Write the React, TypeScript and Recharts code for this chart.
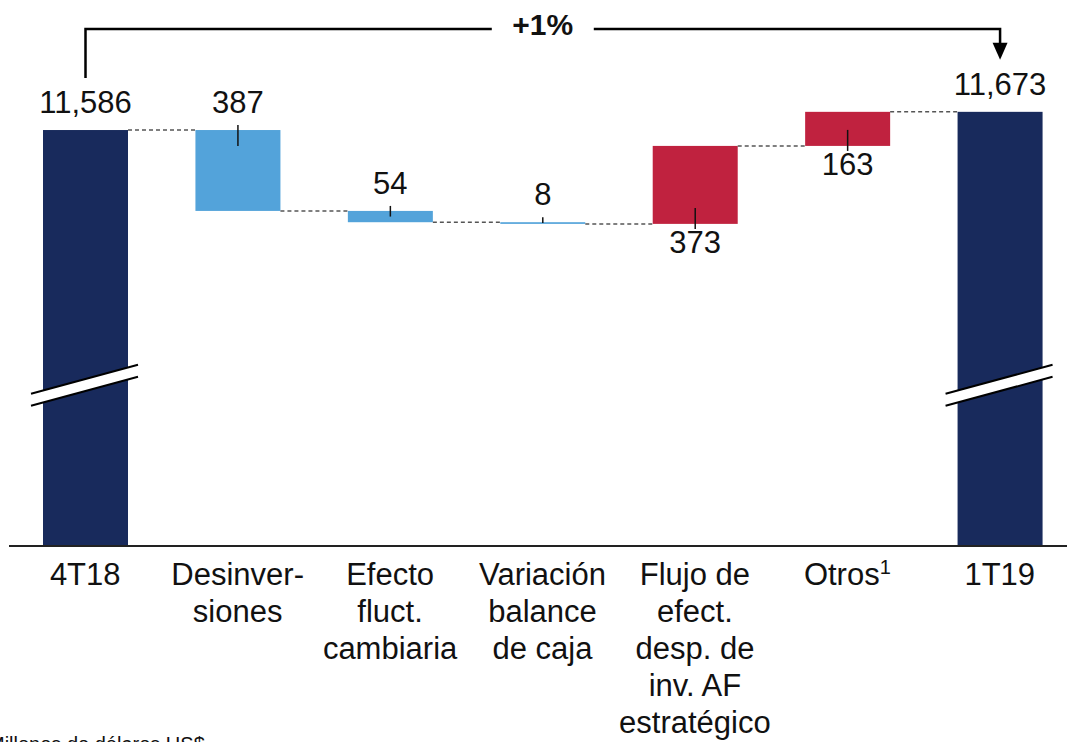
import React from 'react';
import { BarChart, Bar, XAxis, YAxis, LabelList } from 'recharts';

// ---------- data ----------
const categoryLines: string[][] = [
  ['4T18'],
  ['Desinver-', 'siones'],
  ['Efecto', 'fluct.', 'cambiaria'],
  ['Variación', 'balance', 'de caja'],
  ['Flujo de', 'efect.', 'desp. de', 'inv. AF', 'estratégico'],
  ['Otros¹'],
  ['1T19'],
];
const categories = ['4T18', 'Desinversiones', 'Efecto fluct. cambiaria', 'Variación balance de caja', 'Flujo de efect. desp. de inv. AF estratégico', 'Otros', '1T19'];
const startValue = 11586;
const changes = [-387, -54, -8, 373, 163];
const endValue = 11673;
const AXIS_MIN = 9596; // broken axis floor
const AXIS_MAX = 11921;
const footnote = 'Millones de dólares US$';

// ---------- styles ----------
const NAVY = '#182a5c';
const BLUE = '#53a3da';
const RED = '#c0223f';
const FONT = '"Liberation Sans", Arial, sans-serif';
const CHART_W = 1080;
const CHART_H = 742;
const MARGIN = { top: 60, right: 4, bottom: 0, left: 9 };
const BAR_SIZE = 85;
const BAND = (CHART_W - MARGIN.left - MARGIN.right) / categories.length;
const GAP = BAND - BAR_SIZE;
const BRACKET_Y = 29;

type Row = { name: string; range: [number, number]; kind: 'total' | 'down' | 'up'; value: number };

const rows: Row[] = [];
{
  let level = startValue;
  rows.push({ name: categories[0], range: [AXIS_MIN, startValue], kind: 'total', value: startValue });
  changes.forEach((c, i) => {
    const next = level + c;
    rows.push({
      name: categories[i + 1],
      range: [Math.min(level, next), Math.max(level, next)],
      kind: c < 0 ? 'down' : 'up',
      value: Math.abs(c),
    });
    level = next;
  });
  rows.push({ name: categories[categories.length - 1], range: [AXIS_MIN, endValue], kind: 'total', value: endValue });
}
const pct = Math.round((endValue / startValue - 1) * 100);
const pctLabel = `${pct >= 0 ? '+' : ''}${pct}%`;

const fmt = (v: number) => v.toLocaleString('en-US');

const BarShape = (props: any) => {
  const { x, y, width, height, index } = props;
  const row = rows[index];
  const top = Math.min(y, y + height);
  const h = Math.abs(height);
  const bottom = top + h;
  const fill = row.kind === 'total' ? NAVY : row.kind === 'down' ? BLUE : RED;
  const els: React.ReactNode[] = [];
  els.push(<rect key="r" x={x} y={top} width={width} height={Math.max(h, 1.5)} fill={fill} />);
  if (index < rows.length - 1) {
    const ly = row.kind === 'down' ? bottom : top;
    els.push(
      <line key="c" x1={x + width} x2={x + width + GAP} y1={ly} y2={ly} stroke="#555" strokeWidth={1.5} strokeDasharray="4 3" />
    );
  }
  if (row.kind === 'total') {
    const cx = x + width / 2;
    const cy = bottom - 161;
    const s = 29 / 107;
    const half = 6;
    const xl = x - 12;
    const xr = x + width + 10;
    const yAt = (px: number, off: number) => cy + off - s * (px - cx);
    els.push(
      <polygon
        key="bp"
        points={`${xl},${yAt(xl, -half)} ${xr},${yAt(xr, -half)} ${xr},${yAt(xr, half)} ${xl},${yAt(xl, half)}`}
        fill="#fff"
      />
    );
    els.push(<line key="b1" x1={xl} y1={yAt(xl, -half)} x2={xr} y2={yAt(xr, -half)} stroke="#000" strokeWidth={2} />);
    els.push(<line key="b2" x1={xl} y1={yAt(xl, half)} x2={xr} y2={yAt(xr, half)} stroke="#000" strokeWidth={2} />);
  }
  return <g>{els}</g>;
};

const ValueLabel = (props: any) => {
  const { x, y, width, height, index } = props;
  const row = rows[index];
  const top = Math.min(y, y + height);
  const h = Math.abs(height);
  const bottom = top + h;
  const cx = x + width / 2;
  const textProps = { fontFamily: FONT, fontSize: 31, fill: '#111', textAnchor: 'middle' as const };
  if (row.kind === 'total') {
    const base = top - 17;
    const labelTop = base - 23;
    const els: React.ReactNode[] = [
      <text key="t" x={cx} y={base} {...textProps}>{fmt(row.value)}</text>,
    ];
    const tot = rows.length - 1;
    if (index === 0) {
      const mid = cx + (tot / 2) * BAND;
      els.push(<polyline key="bl" points={`${cx},${labelTop - 12} ${cx},${BRACKET_Y} ${mid - 51},${BRACKET_Y}`} fill="none" stroke="#000" strokeWidth={2.5} />);
      els.push(
        <text key="p" x={mid} y={BRACKET_Y + 6} fontFamily={FONT} fontSize={30} fontWeight="bold" textAnchor="middle" fill="#111">
          {pctLabel}
        </text>
      );
    } else {
      const mid = cx - (tot / 2) * BAND;
      const tip = labelTop - 12;
      els.push(<polyline key="br" points={`${mid + 51},${BRACKET_Y} ${cx},${BRACKET_Y} ${cx},${tip - 16}`} fill="none" stroke="#000" strokeWidth={2.5} />);
      els.push(<polygon key="ar" points={`${cx - 7.5},${tip - 17} ${cx + 7.5},${tip - 17} ${cx},${tip}`} fill="#000" />);
    }
    return <g>{els}</g>;
  }
  const inner = Math.min(16, h / 2);
  if (row.kind === 'down') {
    const t1 = top - 5;
    const t2 = top + inner;
    return (
      <g>
        <line x1={cx} x2={cx} y1={t1} y2={t2} stroke="#111" strokeWidth={1.5} />
        <text x={cx} y={t1 - 12} {...textProps}>{fmt(row.value)}</text>
      </g>
    );
  }
  const b1 = bottom + 5;
  const b2 = bottom - inner;
  return (
    <g>
      <line x1={cx} x2={cx} y1={b2} y2={b1} stroke="#111" strokeWidth={1.5} />
      <text x={cx} y={b1 + 24} {...textProps}>{fmt(row.value)}</text>
    </g>
  );
};

const CategoryTick = (props: any) => {
  const { x, y, payload } = props;
  const idx = categories.indexOf(payload.value);
  const lines = categoryLines[idx] || [String(payload.value)];
  return (
    <g>
      {lines.map((ln, i) => {
        const parts = ln.split('¹');
        return (
          <text key={i} x={x} y={y + 31 + i * 37} textAnchor="middle" fontFamily={FONT} fontSize={31} fill="#111">
            {parts[0]}
            {parts.length > 1 ? (
              <tspan fontSize={20} dy={-11}>1</tspan>
            ) : null}
          </text>
        );
      })}
    </g>
  );
};

export default function App() {
  return (
    <div style={{ position: 'absolute', left: 0, top: 0, width: 1067, height: 742, overflow: 'hidden', background: '#fff' }}>
      <BarChart width={CHART_W} height={CHART_H} data={rows} margin={MARGIN}>
        <YAxis hide type="number" domain={[AXIS_MIN, AXIS_MAX]} allowDataOverflow />
        <XAxis
          dataKey="name"
          interval={0}
          height={196}
          tickLine={false}
          axisLine={{ stroke: '#222', strokeWidth: 2 }}
          tick={<CategoryTick />}
        />
        <Bar dataKey="range" barSize={BAR_SIZE} isAnimationActive={false} shape={<BarShape />}>
          <LabelList dataKey="range" content={<ValueLabel />} />
        </Bar>
      </BarChart>
      <div style={{ position: 'absolute', left: -12, top: 733, fontFamily: FONT, fontSize: 20, color: '#111', whiteSpace: 'nowrap', lineHeight: '22px' }}>
        {footnote}
      </div>
    </div>
  );
}
